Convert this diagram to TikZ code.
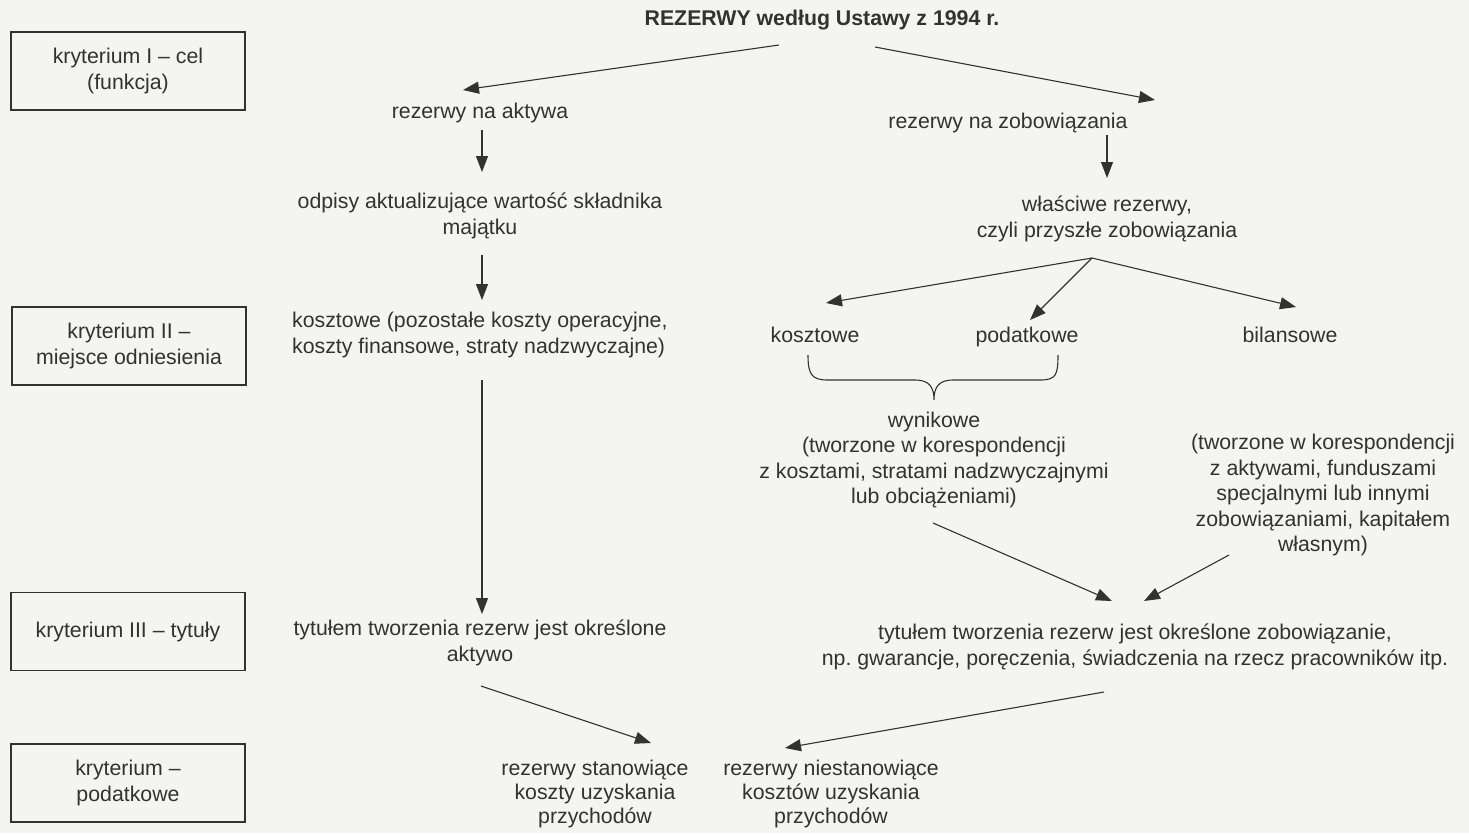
\documentclass[tikz,border=0pt]{standalone}
\usepackage{fontspec}
\setmainfont{Liberation Sans}
\usetikzlibrary{arrows.meta,calc}
\definecolor{ink}{RGB}{50,50,50}
\definecolor{paper}{RGB}{244,244,242}
\frenchspacing
\begin{document}
\begin{tikzpicture}[x=1pt,y=-1pt,
  every node/.style={font=\fontsize{21.3}{25.5}\selectfont, text=ink, inner sep=0pt, align=center},
  crit/.style={draw=ink, line width=1.5pt, minimum width=234pt, minimum height=78pt},
  arr/.style={draw=ink, line width=1.1pt, -{Triangle[length=16pt,width=12pt]}},
  tight/.style={font=\fontsize{21.3}{24}\selectfont}]
\fill[paper] (0,0) rectangle (1469,833);
\useasboundingbox (0,0) rectangle (1469,833);

\node[font=\bfseries\fontsize{21.3}{25}\selectfont] (title) at (822,20) {REZERWY według Ustawy z 1994 r.};

\node[crit] (k1) at (128,71) {kryterium I – cel\\(funkcja)};
\node[crit] (k2) at (129,346) {kryterium II –\\miejsce odniesienia};
\node[crit] (k3) at (128,631.5) {kryterium III – tytuły};
\node[crit] (k4) at (128,783) {kryterium –\\podatkowe};

\node (ra) at (480,113) {rezerwy na aktywa};
\node (rz) at (1008,123) {rezerwy na zobowiązania};
\node (od) at (480,216) {odpisy aktualizujące wartość składnika\\majątku};
\node (wl) at (1107,219) {właściwe rezerwy,\\czyli przyszłe zobowiązania};
\node[anchor=west, align=left] (kl) at (292,335) {kosztowe (pozostałe koszty operacyjne,\\koszty finansowe, straty nadzwyczajne)};
\node (kk) at (815,335) {kosztowe};
\node (pp) at (1027,337) {podatkowe};
\node (bb) at (1290,335) {bilansowe};
\node (wy) at (934,460) {wynikowe\\(tworzone w korespondencji\\z kosztami, stratami nadzwyczajnymi\\lub obciążeniami)};
\node (bp) at (1323,495) {(tworzone w korespondencji\\z aktywami, funduszami\\specjalnymi lub innymi\\zobowiązaniami, kapitałem\\własnym)};
\node (tl) at (480,643) {tytułem tworzenia rezerw jest określone\\aktywo};
\node (tr) at (1135,647) {tytułem tworzenia rezerw jest określone zobowiązanie,\\np. gwarancje, poręczenia, świadczenia na rzecz pracowników itp.};
\node[tight] (st) at (595,794) {rezerwy stanowiące\\koszty uzyskania\\przychodów};
\node[tight] (ns) at (831,794) {rezerwy niestanowiące\\kosztów uzyskania\\przychodów};

\draw[arr] ([shift={(-43,25)}]title.center) -- ([shift={(-17,-23)}]ra.center);
\draw[arr] ([shift={(53,27)}]title.center) -- ([shift={(147,-23)}]rz.center);
\draw[arr] ([shift={(2,17)}]ra.center) -- ([shift={(2,-44)}]od.center);
\draw[arr] ([shift={(2,39)}]od.center) -- ([shift={(190,-35)}]kl.west);
\draw[arr] ([shift={(99,12)}]rz.center) -- ([shift={(0,-41)}]wl.center);
\coordinate (fan) at ([shift={(-15,39)}]wl.center);
\draw[arr] (fan) -- ([shift={(11,-32)}]kk.center);
\draw[arr] (fan) -- ([shift={(3,-17)}]pp.center);
\draw[arr] (fan) -- ([shift={(6,-28)}]bb.center);
\draw[arr] ([shift={(190,45)}]kl.west) -- ([shift={(2,-29)}]tl.center);
\draw[arr] ([shift={(-1,63)}]wy.center) -- ([shift={(-23,-46)}]tr.center);
\draw[arr] ([shift={(-94,60)}]bp.center) -- ([shift={(9,-46)}]tr.center);
\draw[arr] ([shift={(1,43)}]tl.center) -- ([shift={(56,-51)}]st.center);
\draw[arr] ([shift={(-31,45)}]tr.center) -- ([shift={(-46,-46)}]ns.center);

\draw[ink, line width=1.1pt] (808,355) .. controls (808,375) and (812,380) .. (828,380) -- (915,380) .. controls (930,380) and (934,388) .. (934,400) .. controls (934,388) and (938,380) .. (953,380) -- (1040,380) .. controls (1056,380) and (1058,375) .. (1058,355);
\end{tikzpicture}
\end{document}
